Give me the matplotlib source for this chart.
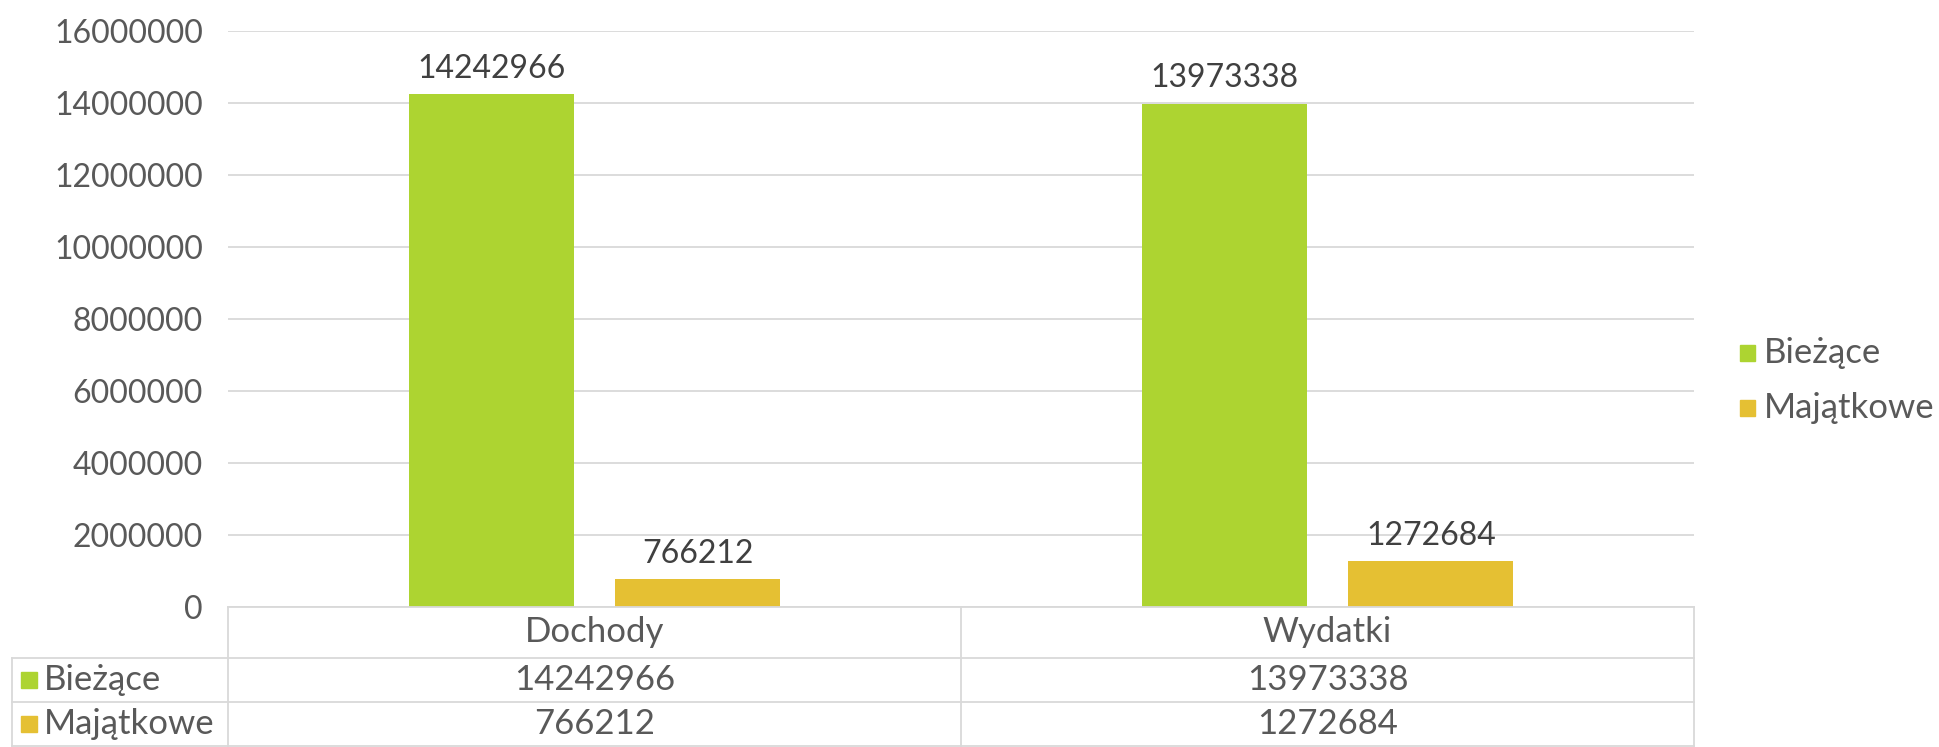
import matplotlib.pyplot as plt
from matplotlib.patches import Rectangle
from matplotlib.lines import Line2D
import numpy as np

# data
categories = ['Dochody', 'Wydatki']
series_names = ['Bieżące', 'Majątkowe']
biezace = [14242966, 13973338]
majatkowe = [766212, 1272684]
yticks = [0, 2000000, 4000000, 6000000, 8000000, 10000000, 12000000, 14000000, 16000000]

colors = ['#ADD431', '#E5C033']
text_c = '#595959'
grid_c = '#D9D9D9'

plt.rcParams['font.family'] = ['Lato', 'DejaVu Sans']

W, H = 1939, 747
fig = plt.figure(figsize=(W / 100, H / 100), dpi=100)

# pixel helpers (origin top-left)
def fx(px):
    return px / W

def fy(py):
    return 1 - py / H

ax_l, ax_r, ax_t, ax_b = 228, 1694, 31, 607
ax = fig.add_axes([fx(ax_l), fy(ax_b), fx(ax_r - ax_l), (ax_b - ax_t) / H])

x = np.arange(len(categories))
width = 0.225
off = 0.141
series = [biezace, majatkowe]
for i, vals in enumerate(series):
    pos = x + (-off if i == 0 else off)
    bars = ax.bar(pos, vals, width, color=colors[i], zorder=3)
    for b, v in zip(bars, vals):
        ax.annotate(str(v), (b.get_x() + b.get_width() / 2, v), xytext=(0, 12),
                    textcoords='offset points', ha='center', va='baseline',
                    fontsize=23, color='#404040')

ax.set_xlim(-0.5, len(categories) - 0.5)
ax.set_ylim(0, 16000000)
ax.set_yticks(yticks)
ax.set_yticklabels([str(t) for t in yticks], fontsize=23, color=text_c)
ax.set_xticks([])
ax.tick_params(axis='y', length=0, pad=18)
ax.grid(axis='y', color=grid_c, linewidth=1.3, zorder=0)
for s in ax.spines.values():
    s.set_visible(False)

# data table below the axes
col_x = [12, ax_l, (ax_l + ax_r) / 2, ax_r]
row_y = [ax_b, 658, 702, 746]
lw = 1.3

def hline(y, x0, x1):
    fig.add_artist(Line2D([fx(x0), fx(x1)], [fy(y), fy(y)], color=grid_c, lw=lw))

def vline(xp, y0, y1):
    fig.add_artist(Line2D([fx(xp), fx(xp)], [fy(y0), fy(y1)], color=grid_c, lw=lw))

hline(row_y[0], col_x[1], col_x[3])
for yy in row_y[1:]:
    hline(yy, col_x[0], col_x[3])
vline(col_x[0], row_y[1], row_y[3])
for xx in col_x[1:]:
    vline(xx, row_y[0], row_y[3])

for j, cat in enumerate(categories):
    cx = (col_x[j + 1] + col_x[j + 2]) / 2
    fig.text(fx(cx), fy((row_y[0] + row_y[1]) / 2), cat, ha='center', va='center',
             fontsize=25, color=text_c)
    for i, vals in enumerate(series):
        fig.text(fx(cx), fy((row_y[i + 1] + row_y[i + 2]) / 2), str(vals[j]),
                 ha='center', va='center', fontsize=25, color=text_c)

for i, name in enumerate(series_names):
    cy = (row_y[i + 1] + row_y[i + 2]) / 2
    fig.add_artist(Rectangle((fx(21), fy(cy + 8)), fx(16), 16 / H, color=colors[i]))
    fig.text(fx(44), fy(cy), name, ha='left', va='center', fontsize=25, color=text_c)

# legend on the right
for i, name in enumerate(series_names):
    cy = [353, 408][i]
    fig.add_artist(Rectangle((fx(1740), fy(cy + 8)), fx(15), 16 / H, color=colors[i]))
    fig.text(fx(1764), fy(cy), name, ha='left', va='center', fontsize=25, color=text_c)

fig.savefig('out.png', dpi=100)
